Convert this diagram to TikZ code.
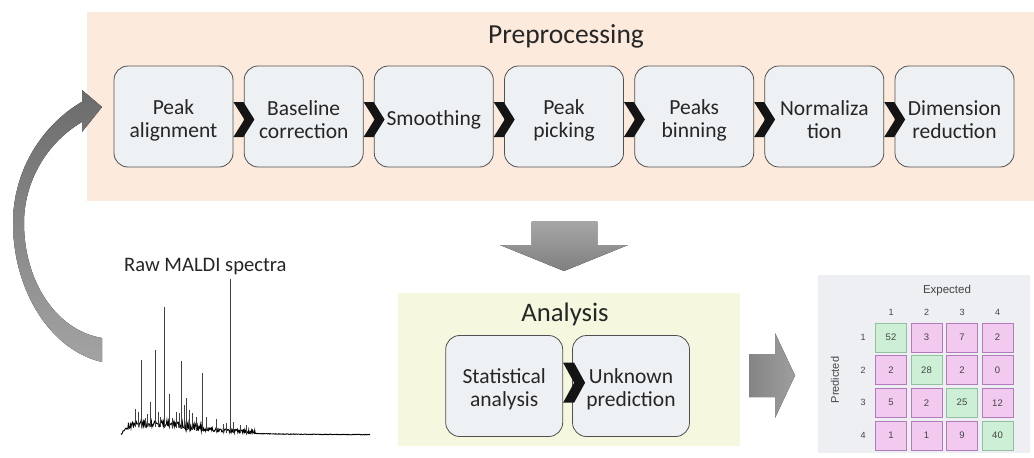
\documentclass[tikz,border=0pt]{standalone}
\usepackage{fontspec}
\setmainfont{Carlito}
\newfontfamily\matfont{Liberation Sans}
\usetikzlibrary{calc}
\definecolor{peach}{HTML}{FCEADC}
\definecolor{lime}{HTML}{F5F8DF}
\definecolor{boxfill}{HTML}{EEF1F4}
\definecolor{boxline}{HTML}{505050}
\definecolor{matbg}{HTML}{EDEFF3}
\definecolor{gcell}{HTML}{CCEFD6}
\definecolor{gline}{HTML}{93BFA2}
\definecolor{pcell}{HTML}{F2CAF0}
\definecolor{pline}{HTML}{B27CBA}
\definecolor{txt}{HTML}{262626}
\definecolor{mtxt}{HTML}{444444}
\newcommand{\st}{\rule{0pt}{22pt}}
\begin{document}
\begin{tikzpicture}[x=1pt,y=-1pt,
  declare function={sbase(\x)=435-8*(1-exp(-(\x-121)/5))*exp(-max(\x-170,0)/45);},
  stepbox/.style={draw=boxline, line width=0.8pt, fill=boxfill, rounded corners=14pt,
    minimum width=119pt, minimum height=101pt, align=center, inner sep=0pt,
    font=\fontsize{21.5}{23}\selectfont, text=txt},
  abox/.style={stepbox, minimum width=117pt},
  chev/.style={fill=black!92},
  title/.style={font=\fontsize{27.5}{30}\selectfont, text=txt, anchor=base, inner sep=0pt},
  cell/.style={minimum width=31pt, minimum height=29pt, inner sep=0pt, line width=0.6pt,
    font=\matfont\fontsize{9.5}{10}\selectfont, text=mtxt},
  gc/.style={cell, fill=gcell, draw=gline},
  pc/.style={cell, fill=pcell, draw=pline},
  mlabel/.style={font=\matfont\fontsize{9}{10}\selectfont, text=mtxt, inner sep=0pt},
  spec/.style={line width=0.9pt, black},
  peak/.style={line width=0.9pt, black!75}
]
\useasboundingbox (0,0) rectangle (1034,458);
\fill[white] (0,0) rectangle (1034,458);

% backgrounds
\fill[peach] (87,12) rectangle (1034,201);
\fill[lime] (398,293) rectangle (740,446);
\fill[matbg] (818,275) rectangle (1030,453);

% titles
\node[title] (tpre) at (566,43) {Preprocessing};
\node[title, font=\fontsize{26.7}{29}\selectfont] (tana) at (565,321.7) {Analysis};

% preprocessing steps
\node[stepbox] (b1) at (173.5,116.5) {\st Peak\\alignment};
\node[stepbox] (b2) at (303.7,116.5) {\st Baseline\\correction};
\node[stepbox] (b3) at (433.8,116.5) {\st Smoothing};
\node[stepbox] (b4) at (564,116.5) {\st Peak\\picking};
\node[stepbox] (b5) at (694.2,116.5) {\st Peaks\\binning};
\node[stepbox] (b6) at (824.3,116.5) {\st Normaliza\\tion};
\node[stepbox] (b7) at (954.5,116.5) {\st Dimension\\reduction};
\foreach \a in {b1,b2,b3,b4,b5,b6}
  \fill[chev] ([shift={(0,-14.5)}]\a.east) -- ++(10,0) -- ++(11,17.5) -- ++(-11,17.5)
     -- ++(-10,0) -- ++(11,-17.5) -- cycle;

% analysis steps
\node[abox] (a1) at (504.2,386) {\st Statistical\\analysis};
\node[abox] (a2) at (631,386) {\st Unknown\\prediction};
\fill[chev] ([shift={(0,-23.3)}]a1.east) -- ++(11,0) -- ++(11,20) -- ++(-11,20)
     -- ++(-11,0) -- ++(11,-20) -- cycle;

% curved arrow
\fill[top color=black!58, bottom color=black!36]
  (102,362) .. controls (50,350) and (13,290) .. (13,223)
  .. controls (13,173.3) and (39.3,127.1) .. (82,101.7)
  -- (82,90) -- (102,107) -- (82,132) -- (82,122)
  .. controls (46.5,142.8) and (24,181.8) .. (24,223)
  .. controls (24,280) and (55,330) .. (102,338) -- cycle;

% down arrow
\fill[top color=black!35, bottom color=black!50]
  (531.7,221.7) -- (597.3,221.7) -- (597.3,245) -- (628,245) -- (564,271)
  -- (500,245) -- (531.7,245) -- cycle;

% right arrow
\fill[left color=black!48, right color=black!38]
  (749,354) -- (775,354) -- (775,333) -- (795,375.5) -- (775,418) -- (775,397)
  -- (749,397) -- cycle;

% spectrum
\node[font=\fontsize{20.6}{22}\selectfont, text=txt, anchor=base west, inner sep=0pt] (raw) at (124,271.7) {Raw MALDI spectra};
\pgfmathsetseed{12345}
\draw[spec] plot[domain=121:370, samples=500, variable=\x]
  (\x,{sbase(\x)-rnd*((\x<255)?((\x<205)?((\x<127)?2:7):4):0.6)});
\foreach \px/\pt in {141.7/360, 150/401.7, 155/350, 164.3/306.7, 169.3/394, 176.7/411.7,
  181.7/360.7, 186.7/398, 202.7/373.3, 206/416.7, 216/419, 230.7/279.3, 135/409, 138/411.7,
  172.7/418, 196.7/416.7, 233/421.7, 240/425, 246.7/425, 223/424, 226.7/422.7, 184/405,
  189/410, 192/413, 145/418, 160/417, 147/414, 158/412, 179/413}
  \draw[peak] (\px,{sbase(\px)}) -- (\px,\pt);

% confusion matrix
\node[font=\matfont\fontsize{11.5}{12}\selectfont, text=mtxt, inner sep=0pt] (exp) at (947,291) {Expected};
\node[font=\matfont\fontsize{11}{12}\selectfont, text=mtxt, inner sep=0pt, rotate=90] (pred) at (835,380) {Predicted};
\foreach \c in {1,2,3,4}
  \node[mlabel] (col\c) at ({891+35.5*(\c-1)},312) {\c};
\foreach \r in {1,2,3,4}
  \node[mlabel] (row\r) at (863,{337.5+32.6*(\r-1)}) {\r};
\foreach \r/\c/\v/\t in {1/1/52/gc,1/2/3/pc,1/3/7/pc,1/4/2/pc,
  2/1/2/pc,2/2/28/gc,2/3/2/pc,2/4/0/pc,
  3/1/5/pc,3/2/2/pc,3/3/25/gc,3/4/12/pc,
  4/1/1/pc,4/2/1/pc,4/3/9/pc,4/4/40/gc}
  \node[\t] (m\r\c) at ({891+35.5*(\c-1)},{337.5+32.6*(\r-1)}) {\v};
\end{tikzpicture}
\end{document}
